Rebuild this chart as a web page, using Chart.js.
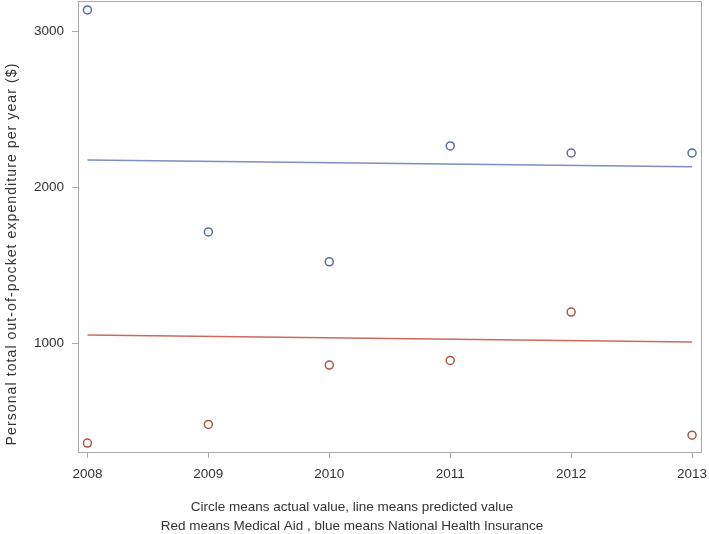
<!DOCTYPE html>
<html>
<head>
<meta charset="utf-8">
<script src="https://cdn.jsdelivr.net/npm/chart.js@4/dist/chart.umd.min.js"></script>
<style>
  body { margin: 0; background: #fff; }
  #wrap { width: 709px; height: 534px; }
</style>
</head>
<body>
<div id="wrap"><canvas id="myChart"></canvas></div>
<script>
// data
const years = [2008, 2009, 2010, 2011, 2012, 2013];
const nhiActual = [3138, 1715, 1524, 2266, 2221, 2221];
const aidActual = [362, 482, 862, 892, 1202, 413];
// predicted line: value at first year and last year
const nhiPredicted = [2176, 2133];
const aidPredicted = [1054, 1010];
const yTicks = [1000, 2000, 3000];

const yTitle = 'Personal total out-of-pocket expenditure per year ($)';
const captions = [
    'Circle means actual value, line means predicted value',
    'Red means Medical Aid , blue means National Health Insurance'
];

const fontFamily = '"Liberation Sans", Arial, sans-serif';
const textColor = '#333333';
const frameColor = '#a9a9a9';

function points(vals) {
    return vals.map(function(v, i) { return { x: years[i], y: v }; });
}

function endPoints(vals) {
    return [
        { x: years[0], y: vals[0] },
        { x: years[years.length - 1], y: vals[1] }
    ];
}

function noPadding(scale) {
    scale.paddingTop = 0;
    scale.paddingBottom = 0;
    scale.paddingLeft = 0;
    scale.paddingRight = 0;
}

const framePlugin = {
    id: 'frame',
    afterDraw: function(chart) {
        const ctx = chart.ctx;
        const a = chart.chartArea;
        ctx.save();
        ctx.strokeStyle = frameColor;
        ctx.lineWidth = 1;
        ctx.strokeRect(a.left + 0.5, a.top + 0.5, a.right - a.left, a.bottom - a.top);

        ctx.fillStyle = textColor;
        ctx.font = '13.5px ' + fontFamily;
        ctx.textAlign = 'center';
        ctx.textBaseline = 'middle';
        ctx.fillText(captions[0], 352, 507);
        ctx.fillText(captions[1], 352, 526);

        ctx.font = '14px ' + fontFamily;
        ctx.letterSpacing = '1.1px';
        ctx.translate(12, 254);
        ctx.rotate(-Math.PI / 2);
        ctx.fillText(yTitle, 0, 0);
        ctx.restore();
    }
};

const ctx = document.getElementById('myChart').getContext('2d');
const myChart = new Chart(ctx, {
    type: 'scatter',
    data: {
        datasets: [{
            label: 'National Health Insurance',
            data: points(nhiActual),
            pointStyle: 'circle',
            pointRadius: 4,
            pointBorderWidth: 1.5,
            pointBackgroundColor: 'rgba(0,0,0,0)',
            borderColor: '#5a6aa3',
            showLine: false
        }, {
            label: 'Medical Aid',
            data: points(aidActual),
            pointStyle: 'circle',
            pointRadius: 4,
            pointBorderWidth: 1.5,
            pointBackgroundColor: 'rgba(0,0,0,0)',
            borderColor: '#ad5443',
            showLine: false
        }, {
            label: 'NHI predicted',
            type: 'line',
            data: endPoints(nhiPredicted),
            borderColor: '#7d8ec4',
            borderWidth: 1.5,
            pointRadius: 0
        }, {
            label: 'Medical Aid predicted',
            type: 'line',
            data: endPoints(aidPredicted),
            borderColor: '#cc6a5c',
            borderWidth: 1.5,
            pointRadius: 0
        }]
    },
    options: {
        responsive: true,
        maintainAspectRatio: false,
        animation: false,
        layout: {
            autoPadding: false,
            padding: { left: 0, top: 1, right: 8, bottom: 0 }
        },
        plugins: {
            legend: { display: false },
            tooltip: { enabled: false }
        },
        scales: {
            x: {
                type: 'linear',
                min: 2007.922,
                max: 2013.074,
                afterBuildTicks: function(scale) {
                    scale.ticks = years.map(function(v) { return { value: v }; });
                },
                afterFit: function(scale) {
                    scale.height = 82;
                    noPadding(scale);
                },
                grid: {
                    drawOnChartArea: false,
                    tickLength: 6,
                    color: frameColor
                },
                border: { color: frameColor },
                ticks: {
                    padding: 8,
                    color: textColor,
                    font: { family: fontFamily, size: 13.5 },
                    maxRotation: 0,
                    callback: function(v) { return String(v); }
                }
            },
            y: {
                min: 305,
                max: 3195,
                afterBuildTicks: function(scale) {
                    scale.ticks = yTicks.map(function(v) { return { value: v }; });
                },
                afterFit: function(scale) {
                    scale.width = 78;
                    noPadding(scale);
                },
                grid: {
                    drawOnChartArea: false,
                    tickLength: 6,
                    color: frameColor
                },
                border: { color: frameColor },
                ticks: {
                    padding: 8,
                    color: textColor,
                    font: { family: fontFamily, size: 13.5 },
                    callback: function(v) { return String(v); }
                }
            }
        }
    },
    plugins: [framePlugin]
});
</script>
</body>
</html>
